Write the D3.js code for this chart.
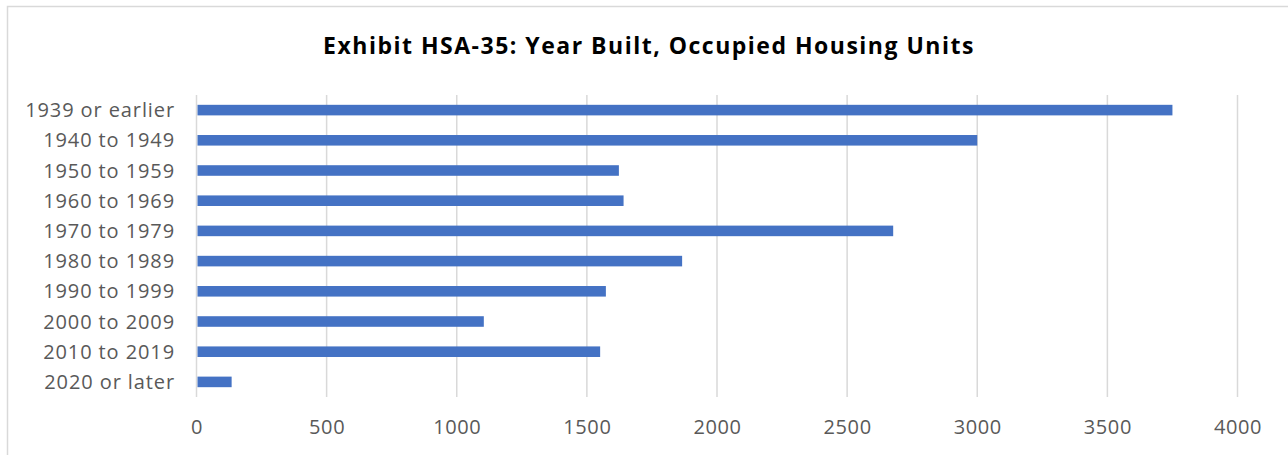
<!DOCTYPE html>
<html>
<head>
<meta charset="utf-8">
<script src="https://cdn.jsdelivr.net/npm/d3@7"></script>
<style>
    body { margin: 0; background: #fff; }
    text { font-family: "Open Sans", sans-serif; }
</style>
</head>
<body>
<svg id="vis1" width="1288" height="455"></svg>
<script>
const categories = [
    "1939 or earlier",
    "1940 to 1949",
    "1950 to 1959",
    "1960 to 1969",
    "1970 to 1979",
    "1980 to 1989",
    "1990 to 1999",
    "2000 to 2009",
    "2010 to 2019",
    "2020 or later"
];

const units = [3750, 3000, 1623, 1641, 2677, 1866, 1573, 1104, 1551, 135];

const xTicks = [0, 500, 1000, 1500, 2000, 2500, 3000, 3500, 4000];

const title = "Exhibit HSA-35: Year Built, Occupied Housing Units";

var width = 1288,
    height = 455;

const margin = {
    top: 95,
    bottom: 58,
    left: 196.5,
    right: 50.5
};

var svg = d3.select("svg#vis1");

// chart area frame (light border, cut off on right and bottom)
svg.append("rect")
    .attr("x", 7.5)
    .attr("y", 6.5)
    .attr("width", width + 20)
    .attr("height", height + 20)
    .attr("fill", "#fff")
    .attr("stroke", "#d9d9d9")
    .attr("stroke-width", 1.5);

var x = d3.scaleLinear()
    .domain([0, 4000])
    .range([margin.left, width - margin.right]);

var y = d3.scaleBand()
    .domain(categories)
    .range([margin.top, height - margin.bottom])
    .paddingInner(0.65)
    .paddingOuter(0.325);

// gridlines
svg.append("g")
    .attr("id", "grid")
    .selectAll("line")
    .data(xTicks)
    .enter()
    .append("line")
    .attr("x1", d => x(d))
    .attr("x2", d => x(d))
    .attr("y1", margin.top)
    .attr("y2", height - margin.bottom)
    .attr("stroke", "#d9d9d9")
    .attr("stroke-width", 1.5);

// bars
svg.append("g")
    .attr("id", "bars")
    .selectAll("rect")
    .data(units)
    .enter()
    .append("rect")
    .attr("x", x(0) + 1)
    .attr("y", (d, i) => y(categories[i]))
    .attr("width", d => x(d) - x(0) - 1)
    .attr("height", y.bandwidth())
    .attr("fill", "#4472c4");

// x axis labels
let xAxis = d3.axisBottom(x)
    .tickValues(xTicks)
    .tickFormat(d3.format("d"))
    .tickSize(0)
    .tickPadding(0);

let xg = svg.append("g")
    .attr("transform", "translate(0," + (height - margin.bottom) + ")")
    .call(xAxis);
xg.select(".domain").remove();
xg.selectAll("text")
    .attr("y", 0)
    .attr("dy", 37)
    .style("font-size", "20px")
    .style("letter-spacing", "0.6px")
    .style("font-family", "'Open Sans', sans-serif")
    .attr("fill", "#595959");

// y axis labels
let yAxis = d3.axisLeft(y)
    .tickSize(0)
    .tickPadding(0);

let yg = svg.append("g")
    .attr("transform", "translate(" + 175 + ",0)")
    .call(yAxis);
yg.select(".domain").remove();
yg.selectAll("text")
    .attr("x", 0)
    .attr("dy", "0.35em")
    .style("font-size", "20px")
    .style("letter-spacing", "0.9px")
    .style("font-family", "'Open Sans', sans-serif")
    .attr("fill", "#595959");

// title
svg.append("text")
    .attr("x", 649)
    .attr("y", 54)
    .attr("text-anchor", "middle")
    .style("font-size", "23px")
    .style("font-weight", "bold")
    .style("letter-spacing", "1.5px")
    .attr("fill", "#000")
    .text(title);
</script>
</body>
</html>
